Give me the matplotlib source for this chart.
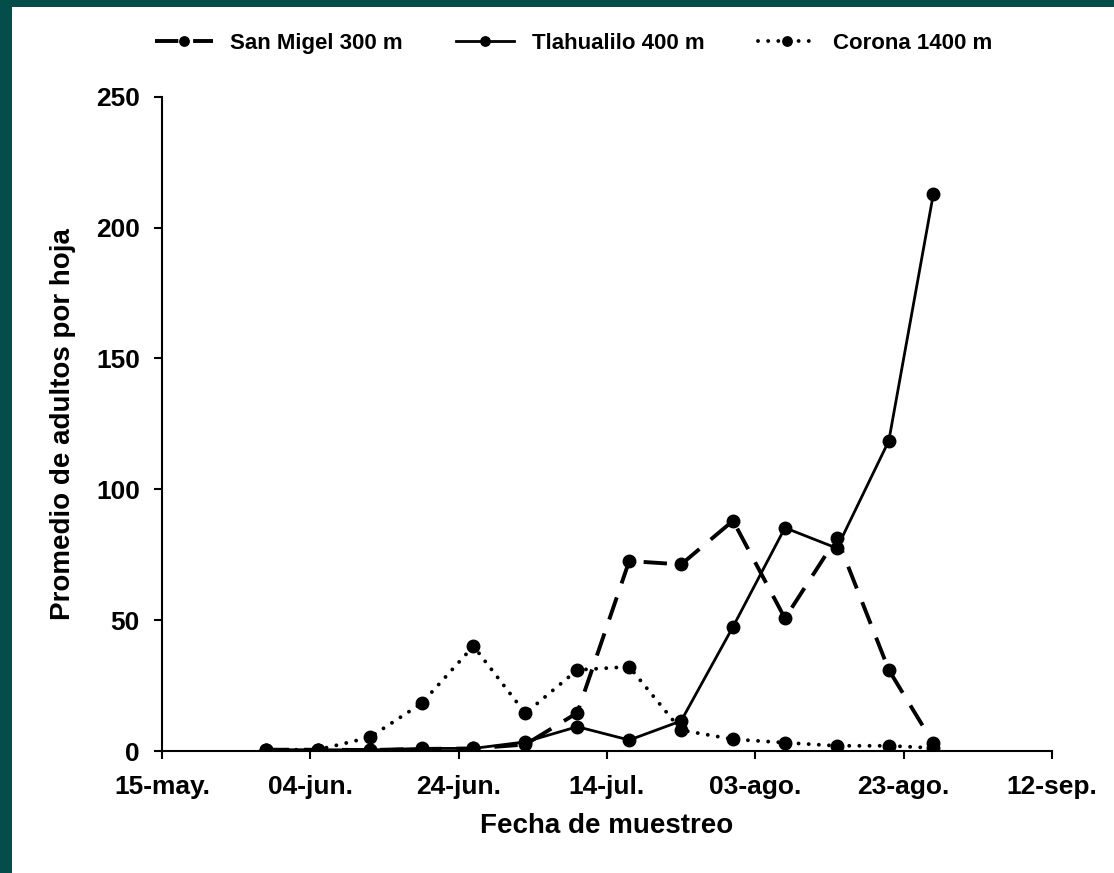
import pandas as pd
import matplotlib
matplotlib.use("Agg")
import matplotlib.pyplot as plt
from matplotlib.patches import Rectangle

plt.rcParams['font.family'] = ['Liberation Sans', 'DejaVu Sans']
plt.rcParams['font.weight'] = 'bold'

fechas = pd.to_datetime(['2010-05-29', '2010-06-05', '2010-06-12', '2010-06-19',
                         '2010-06-26', '2010-07-03', '2010-07-10', '2010-07-17',
                         '2010-07-24', '2010-07-31', '2010-08-07', '2010-08-14',
                         '2010-08-21', '2010-08-27'])

san_migel = [0.5, 0.5, 0.4, 0.8, 1.0, 2.5, 14.6, 72.6, 71.3, 88.0, 50.7, 81.5, 31.0, 3.0]
tlahualilo = [0.5, 0.5, 0.4, 1.0, 1.0, 3.5, 9.3, 4.2, 11.5, 47.5, 85.3, 77.5, 118.5, 212.7]
corona = [0.5, 0.5, 5.2, 18.2, 40.1, 14.4, 31.0, 32.2, 8.0, 4.5, 3.2, 2.0, 2.0, 1.2]

tick_fechas = pd.to_datetime(['2010-05-15', '2010-06-04', '2010-06-24', '2010-07-14',
                              '2010-08-03', '2010-08-23', '2010-09-12'])
tick_labels = ['15-may.', '04-jun.', '24-jun.', '14-jul.', '03-ago.', '23-ago.', '12-sep.']

fig = plt.figure(figsize=(11.14, 8.73), dpi=100)
fig.patch.set_facecolor('#034d4a')
fig.patches.append(Rectangle((12 / 1114, 0), 1 - 12 / 1114, 1 - 7 / 873,
                             transform=fig.transFigure, facecolor='white',
                             edgecolor='none', zorder=-10))

ax = fig.add_axes([0.1454, 0.1397, 0.7989, 0.7495])
ax.set_facecolor('white')

ax.plot(fechas, san_migel, color='black', lw=2.8, linestyle=(0, (6, 3.8)),
        marker='o', markersize=9, label='San Migel 300 m')
ax.plot(fechas, tlahualilo, color='black', lw=2.0, linestyle='-',
        marker='o', markersize=9, label='Tlahualilo 400 m')
ax.plot(fechas, corona, color='black', lw=2.8, linestyle=(0, (0.01, 2.6)),
        dash_capstyle='round', marker='o', markersize=9, label='Corona 1400 m')

ax.set_xlim(tick_fechas[0], tick_fechas[-1])
ax.set_ylim(0, 250)
ax.set_xticks(tick_fechas)
ax.set_xticklabels(tick_labels)
ax.set_yticks([0, 50, 100, 150, 200, 250])

for s in ['top', 'right']:
    ax.spines[s].set_visible(False)
for s in ['left', 'bottom']:
    ax.spines[s].set_linewidth(1.5)
ax.tick_params(axis='both', direction='out', length=6, width=1.5, labelsize=19)
ax.tick_params(axis='y', pad=10)
ax.tick_params(axis='x', pad=11)

ax.set_xlabel('Fecha de muestreo', fontsize=20, fontweight='bold', labelpad=10)
ax.set_ylabel('Promedio de adultos por hoja', fontsize=20, fontweight='bold', labelpad=14)

fig.legend(loc='upper center', bbox_to_anchor=(0.515, 0.985), ncol=3, frameon=False,
           fontsize=16, handlelength=2.6, columnspacing=2.4, handletextpad=0.8,
           markerscale=0.75)

plt.savefig('out.png', dpi=100, facecolor=fig.get_facecolor())
plt.close()
